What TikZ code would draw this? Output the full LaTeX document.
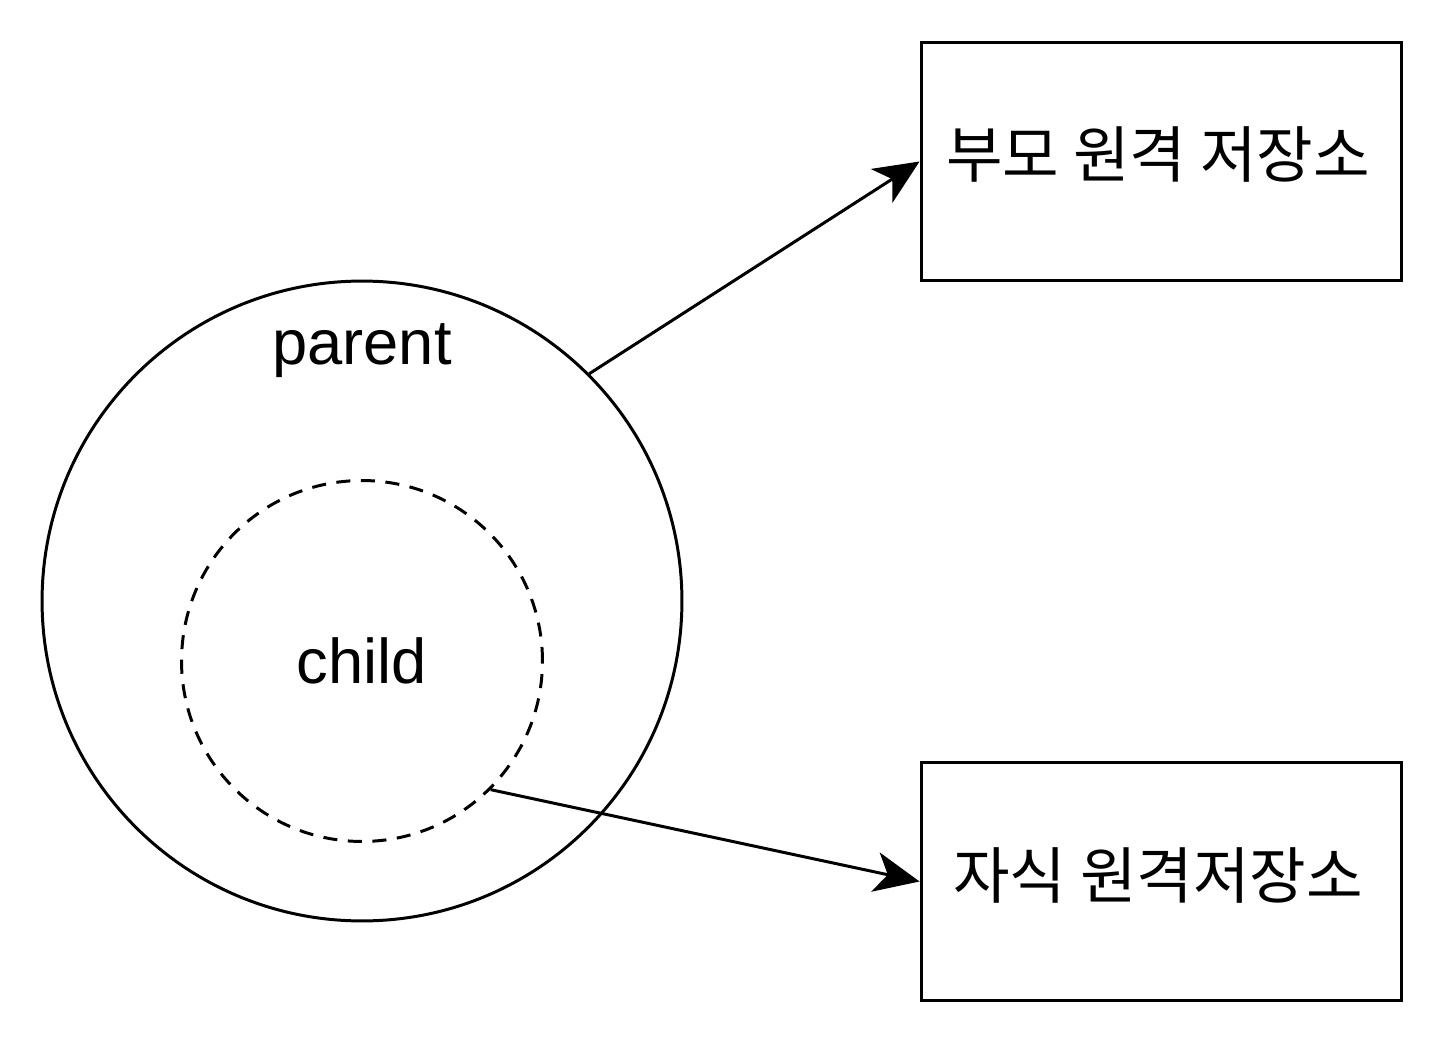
\documentclass[tikz,border=0pt]{standalone}
\usepackage{fontspec}
\setmainfont{Liberation Sans}
\newfontfamily\kr{Noto Sans CJK KR}
\usetikzlibrary{arrows.meta}

\tikzset{
    ring/.style = {draw, circle, line width=1.7pt, inner sep=0pt},
    repobox/.style = {draw, rectangle, line width=1.7pt, minimum width=9.62cm,
                      minimum height=4.78cm},
    repolabel/.style = {font=\kr\fontsize{35}{42}\selectfont},
    pusharrow/.style = {line width=1.7pt, -{Stealth[length=0.9cm, width=0.8cm, inset=0.25cm]}}
}

\begin{document}
\begin{tikzpicture}[x=0.02cm, y=-0.02cm, font=\fontsize{36}{42}\selectfont]
    \useasboundingbox (0,0) rectangle (1444,1044);

    % parent / child
    \node[ring, minimum size=12.8cm] (parent) at (362,601) {};
    \node[ring, dashed, dash pattern=on 8pt off 6pt, minimum size=7.22cm] (child) at (362,661) {child};
    \node (parentlabel) at (362,351) {parent};

    % remote repositories
    \node[repobox] (remoteparent) at (1161.5,161.5) {};
    \node[repobox] (remotechild) at (1161.5,881.5) {};
    \node[repolabel] (parentrepolabel) at (1158,155) {부모 원격 저장소};
    \node[repolabel] (childrepolabel) at (1158,875) {자식 원격저장소};

    \draw[pusharrow] (parent.45) -- (remoteparent.west);
    \draw[pusharrow] (child.-45) -- (remotechild.west);
\end{tikzpicture}
\end{document}
